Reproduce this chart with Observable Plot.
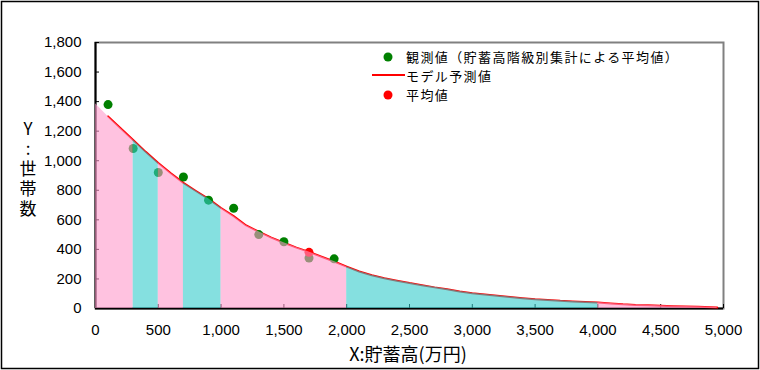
<!DOCTYPE html>
<html>
<head>
<meta charset="utf-8">
<script src="https://cdn.jsdelivr.net/npm/d3@7"></script>
<script src="https://cdn.jsdelivr.net/npm/@observablehq/plot@0.6"></script>
<style>
  html, body { margin: 0; padding: 0; background: #fff; }
  #chart { width: 760px; height: 370px; }
</style>
</head>
<body>
<div id="chart"></div>
<script>
// Observed values (mean savings per class) – green dots
const obsX = [100, 300, 500, 700, 900, 1100, 1300, 1500, 1700, 1900];
const obsY = [1380, 1083, 920, 890, 733, 678, 500, 452, 342, 336];
// Average value – red dot
const meanX = [1700];
const meanY = [380];
// Model prediction curve
const modelX = [0, 100, 200, 300, 400, 500, 600, 700, 800, 900, 1000, 1100, 1200, 1300, 1400, 1500, 1600, 1700, 1800, 1900, 2000,
  2100, 2200, 2300, 2400, 2500, 2600, 2700, 2800, 2900, 3000, 3100, 3200, 3300, 3400, 3500, 3600, 3700, 3800, 3900, 4000,
  4100, 4200, 4300, 4400, 4500, 4600, 4700, 4800, 4900, 4950];
const modelY = [1385, 1300, 1220, 1140, 1060, 985, 915, 850, 795, 742, 680, 625, 562, 520, 480, 445, 412, 383, 350, 318, 283,
  250, 225, 205, 188, 172, 158, 143, 130, 115, 103, 95, 86, 78, 70, 63, 58, 52, 48, 44, 40,
  34, 28, 24, 22, 19, 16, 14, 11, 8, 6];
// Savings class boundaries and their fill colours
const bandEdges = [0, 300, 500, 700, 1000, 2000, 4000, 4950];
const bandColors = ["#FF99CC", "#33CCCC", "#FF99CC", "#33CCCC", "#FF99CC", "#33CCCC", "#FF99CC"];
// Tick values
const xTicks = [0, 500, 1000, 1500, 2000, 2500, 3000, 3500, 4000, 4500, 5000];
const yTicks = [0, 200, 400, 600, 800, 1000, 1200, 1400, 1600, 1800];

const obs = obsX.map((x, i) => ({x, y: obsY[i]}));
const mean = meanX.map((x, i) => ({x, y: meanY[i]}));
const model = modelX.map((x, i) => ({x, y: modelY[i]}));
const lineData = model.filter(d => d.x >= 100);
const areaData = [];
for (let b = 0; b < bandColors.length; b++) {
  for (const d of model) {
    if (d.x >= bandEdges[b] && d.x <= bandEdges[b + 1]) areaData.push({x: d.x, y: d.y, band: b, color: bandColors[b]});
  }
}

const tickFont = "'Liberation Sans', Arial, sans-serif";
const jpFont = "'Noto Sans CJK JP', sans-serif";

const chart = Plot.plot({
  width: 760,
  height: 370,
  marginLeft: 95,
  marginRight: 37,
  marginTop: 42,
  marginBottom: 62,
  style: {fontFamily: tickFont, fontSize: "15px", background: "#fff", color: "#000"},
  x: {domain: [0, 5000], label: null},
  y: {domain: [0, 1800], label: null},
  color: {type: "identity"},
  marks: [
    Plot.frame({stroke: "#808080", strokeWidth: 2}),
    Plot.axisY({ticks: yTicks, tickSize: 0, tickPadding: 14, tickFormat: d3.format(","), label: null, fontSize: 15}),
    Plot.axisY({ticks: yTicks, tickSize: -4, tickFormat: () => "", label: null, stroke: "#000"}),
    Plot.axisX({ticks: xTicks, tickSize: 0, tickPadding: 16, tickFormat: d3.format(","), label: null, fontSize: 15}),
    Plot.axisX({ticks: xTicks, tickSize: -4, tickFormat: () => "", label: null, stroke: "#000"}),
    Plot.ruleX([0], {stroke: "#000", strokeWidth: 2}),
    Plot.ruleY([0], {stroke: "#000", strokeWidth: 2}),
    Plot.line(lineData, {x: "x", y: "y", stroke: "#FF0000", strokeWidth: 2}),
    Plot.dot(obs, {x: "x", y: "y", r: 4.5, fill: "#008000", stroke: "none"}),
    Plot.dot(mean, {x: "x", y: "y", r: 4.5, fill: "#FF0000", stroke: "none"}),
    Plot.areaY(areaData, {x: "x", y1: 0, y2: "y", z: "band", fill: "color", fillOpacity: 0.6})
  ]
});

document.getElementById("chart").appendChild(chart);

const svg = d3.select(chart);
// outer border
svg.append("rect").attr("x", 1.5).attr("y", 1.5).attr("width", 757).attr("height", 367)
  .attr("fill", "none").attr("stroke", "#000").attr("stroke-width", 1.5);

// legend
const lg = svg.append("g").attr("font-family", jpFont).attr("font-size", 13).attr("fill", "#000")
  .attr("text-anchor", "start").style("letter-spacing", "1.4px");
lg.append("circle").attr("cx", 388).attr("cy", 57).attr("r", 4.5).attr("fill", "#008000");
lg.append("text").attr("x", 406).attr("y", 57).attr("dy", "0.35em").text("観測値（貯蓄高階級別集計による平均値）");
lg.append("line").attr("x1", 372).attr("x2", 405).attr("y1", 75).attr("y2", 75).attr("stroke", "#FF0000").attr("stroke-width", 2);
lg.append("text").attr("x", 406).attr("y", 76).attr("dy", "0.35em").text("モデル予測値");
lg.append("circle").attr("cx", 388).attr("cy", 95).attr("r", 4.5).attr("fill", "#FF0000");
lg.append("text").attr("x", 406).attr("y", 95).attr("dy", "0.35em").text("平均値");

// axis titles
svg.append("text").attr("x", 408).attr("y", 355).attr("dy", "0.35em").attr("text-anchor", "middle")
  .attr("font-family", jpFont).attr("font-size", 18).attr("fill", "#000").text("X:貯蓄高(万円)");
svg.append("text").attr("x", 28).attr("y", 120).attr("text-anchor", "start")
  .attr("font-family", jpFont).attr("font-size", 17).attr("fill", "#000")
  .style("writing-mode", "vertical-rl").style("text-orientation", "upright").style("letter-spacing", "3px")
  .text("Y:世帯数");
</script>
</body>
</html>
